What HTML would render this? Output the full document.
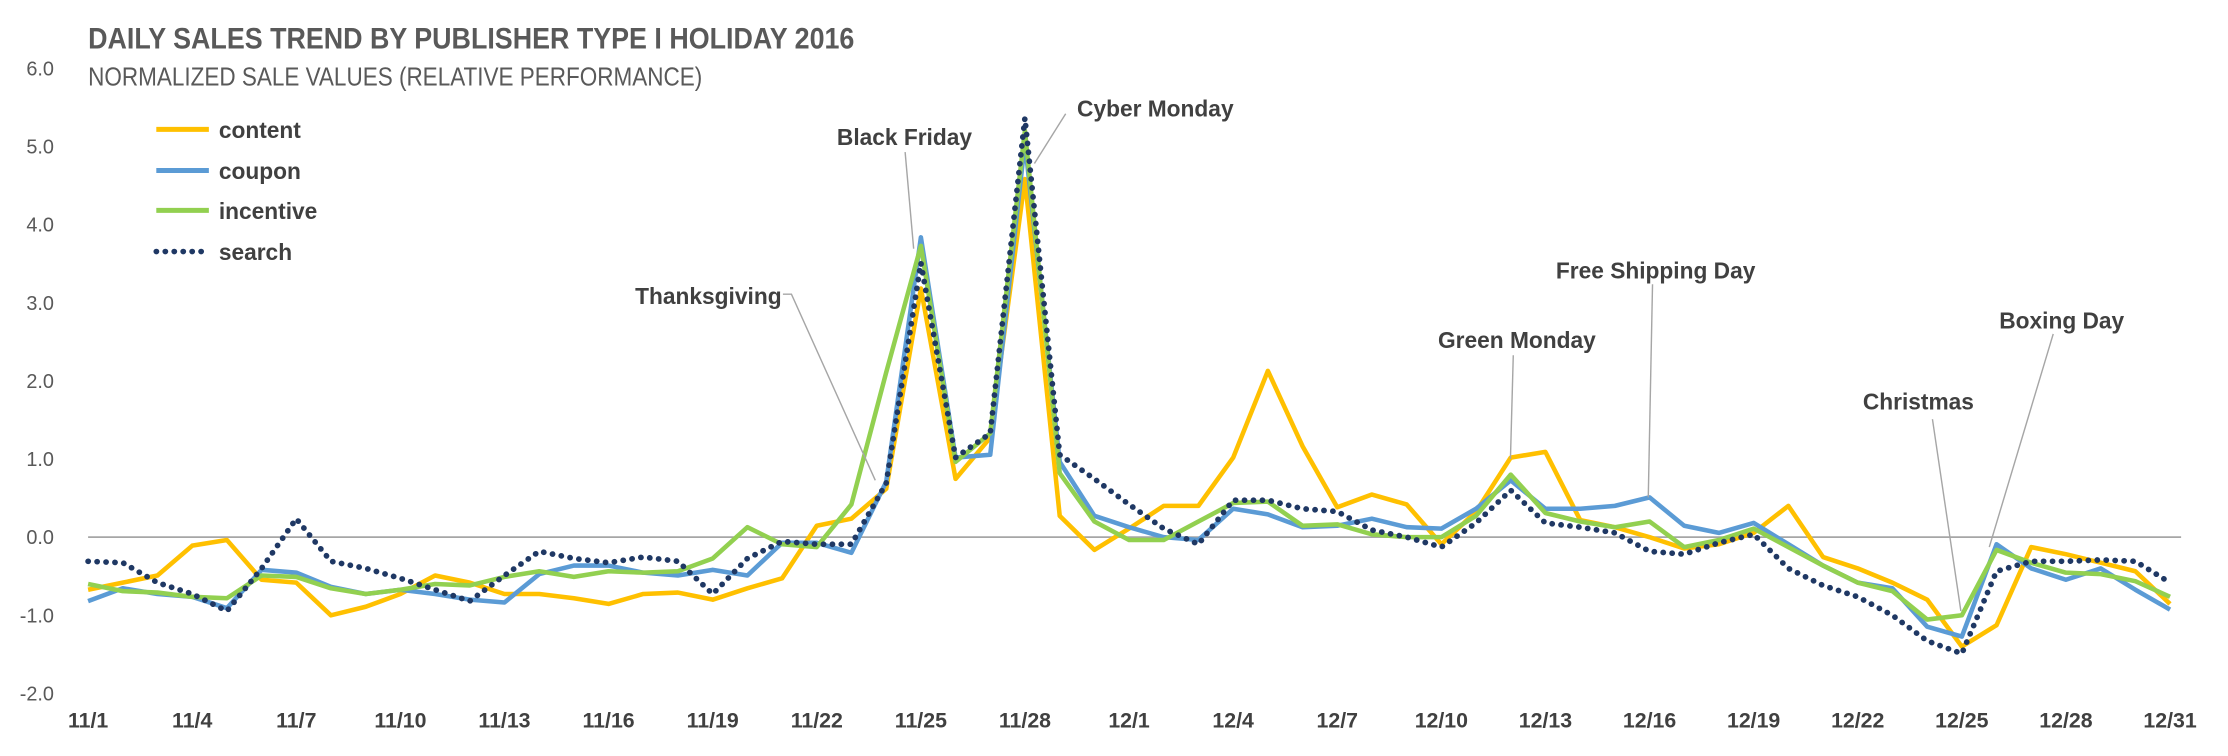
<!DOCTYPE html>
<html><head><meta charset="utf-8"><style>
body{margin:0;background:#fff;width:2228px;height:756px;overflow:hidden}
svg{display:block}
text{font-family:"Liberation Sans",sans-serif}
</style></head><body>
<svg width="2228" height="756" viewBox="0 0 1568 532" xmlns="http://www.w3.org/2000/svg">
<text x="62" y="34" font-size="21" font-weight="bold" fill="#595959" transform="translate(62,0) scale(0.9,1) translate(-62,0)">DAILY SALES TREND BY PUBLISHER TYPE I HOLIDAY 2016</text>
<text x="62" y="60" font-size="18" fill="#595959" transform="translate(62,0) scale(0.88,1) translate(-62,0)">NORMALIZED SALE VALUES (RELATIVE PERFORMANCE)</text>
<g font-size="14" fill="#595959" text-anchor="end">
<text x="38" y="53">6.0</text><text x="38" y="108">5.0</text><text x="38" y="163">4.0</text><text x="38" y="218">3.0</text><text x="38" y="273">2.0</text><text x="38" y="328">1.0</text><text x="38" y="383">0.0</text><text x="38" y="438">-1.0</text><text x="38" y="493">-2.0</text>
</g>
<line x1="62" y1="378" x2="1535" y2="378" stroke="#a6a6a6" stroke-width="1.2"/>
<g font-size="15" font-weight="bold" fill="#404040" text-anchor="middle" id="xl"></g>
<g stroke-width="3.2" fill="none" stroke-linejoin="round">
<polyline id="c" stroke="#ffc000"/>
<polyline id="b" stroke="#5b9bd5"/>
<polyline id="g" stroke="#92d050"/>
<polyline id="s" stroke="#1f3864" stroke-dasharray="0.1 6.2" stroke-linecap="round" stroke-width="4"/>
</g>
<g stroke-width="3.5">
<line x1="110" y1="91" x2="147" y2="91" stroke="#ffc000"/>
<line x1="110" y1="120" x2="147" y2="120" stroke="#5b9bd5"/>
<line x1="110" y1="148" x2="147" y2="148" stroke="#92d050"/>
<line x1="110" y1="177" x2="147" y2="177" stroke="#1f3864" stroke-dasharray="0.1 6.2" stroke-linecap="round" stroke-width="4"/>
</g>
<g font-size="16" font-weight="bold" fill="#404040">
<text x="154" y="97">content</text><text x="154" y="126">coupon</text><text x="154" y="154">incentive</text><text x="154" y="183">search</text>
</g>
<g stroke="#a6a6a6" stroke-width="1" fill="none">
<polyline points="637,107 643,175"/>
<polyline points="750,80 728,115"/>
<polyline points="551,207 557,207 616,338"/>
<polyline points="1163,200 1160,350"/>
<polyline points="1065,250 1063,323"/>
<polyline points="1360,295 1380,430"/>
<polyline points="1445,235 1400,385"/>
</g>
<g font-size="16" font-weight="bold" fill="#404040">
<text x="589" y="102">Black Friday</text>
<text x="758" y="82">Cyber Monday</text>
<text x="447" y="214">Thanksgiving</text>
<text x="1095" y="196">Free Shipping Day</text>
<text x="1012" y="245">Green Monday</text>
<text x="1311" y="288">Christmas</text>
<text x="1407" y="231">Boxing Day</text>
</g>
</svg>
<script>
const X=i=>62+i*24.42;
const d={
c:[415,410,405,384,380,408,410,433,427,418,405,410,418,418,421,425,418,417,422,414,407,370,365,344,203,337,308,126,363,387,372,356,356,322,261,314,357,348,355,383,360,322,318,366,371,378,386,383,375,356,392,400,410,422,455,440,385,390,396,402,425],
b:[423,414,418,420,428,401,403,413,418,415,418,422,424,404,398,398,403,405,401,405,382,382,389,339,167,322,320,100,325,363,371,378,380,358,362,371,370,365,371,372,358,338,358,358,356,350,370,375,368,383,398,410,414,441,448,383,400,408,400,415,429],
g:[411,416,417,420,421,405,406,414,418,415,411,412,406,402,406,402,403,402,393,371,383,385,355,262,173,325,305,92,333,367,380,380,367,354,353,370,369,376,378,378,363,334,361,367,371,367,385,380,372,385,398,410,416,436,433,387,396,403,404,409,420],
s:[395,396,410,418,430,400,365,395,400,407,415,423,405,388,393,396,392,395,418,393,381,383,383,340,185,322,305,83,320,337,355,372,383,352,352,358,360,373,378,385,368,345,368,371,375,388,390,382,376,400,412,420,433,451,460,402,395,395,394,395,410]};
for(const k in d)document.getElementById(k).setAttribute('points',d[k].map((y,i)=>X(i).toFixed(1)+','+y).join(' '));
const L=['11/1','11/4','11/7','11/10','11/13','11/16','11/19','11/22','11/25','11/28','12/1','12/4','12/7','12/10','12/13','12/16','12/19','12/22','12/25','12/28','12/31'];
const g=document.getElementById('xl');
L.forEach((t,j)=>{const e=document.createElementNS('http://www.w3.org/2000/svg','text');e.setAttribute('x',X(j*3));e.setAttribute('y',512);e.textContent=t;g.appendChild(e);});
</script>
</body></html>
